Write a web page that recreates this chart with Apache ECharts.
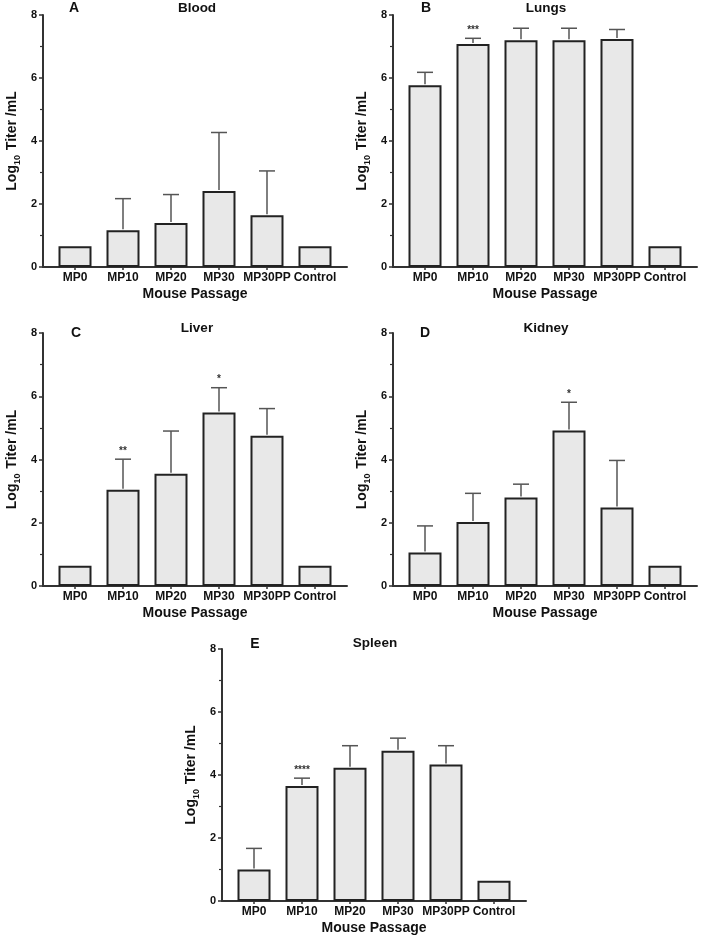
<!DOCTYPE html>
<html>
<head>
<meta charset="utf-8">
<script src="https://cdn.jsdelivr.net/npm/echarts@6/dist/echarts.min.js"></script>
<style>
html,body{margin:0;padding:0;background:#fff;}
#chart{width:702px;height:939px;}
</style>
</head>
<body>
<div id="chart"></div>
<script>
// ---- data ----
const categories = ['MP0', 'MP10', 'MP20', 'MP30', 'MP30PP', 'Control'];
const yTicks = [0, 2, 4, 6, 8];

const bloodMean  = [0.66, 1.17, 1.40, 2.41, 1.64, 0.66];
const bloodUpper = [null, 2.17, 2.30, 4.27, 3.05, null];
const bloodStars = ['', '', '', '', '', ''];

const lungsMean  = [5.77, 7.08, 7.20, 7.20, 7.24, 0.66];
const lungsUpper = [6.18, 7.26, 7.58, 7.58, 7.54, null];
const lungsStars = ['', '***', '', '', '', ''];

const liverMean  = [0.64, 3.04, 3.55, 5.49, 4.75, 0.64];
const liverUpper = [null, 4.01, 4.90, 6.27, 5.61, null];
const liverStars = ['', '**', '', '*', '', ''];

const kidneyMean  = [1.06, 2.02, 2.80, 4.92, 2.48, 0.64];
const kidneyUpper = [1.90, 2.93, 3.22, 5.81, 3.97, null];
const kidneyStars = ['', '', '', '*', '', ''];

const spleenMean  = [1.00, 3.65, 4.23, 4.77, 4.33, 0.64];
const spleenUpper = [1.67, 3.90, 4.93, 5.17, 4.93, null];
const spleenStars = ['', '****', '', '', '', ''];

const panels = [
  {letter: 'A', title: 'Blood',  mean: bloodMean,  upper: bloodUpper,  stars: bloodStars},
  {letter: 'B', title: 'Lungs',  mean: lungsMean,  upper: lungsUpper,  stars: lungsStars},
  {letter: 'C', title: 'Liver',  mean: liverMean,  upper: liverUpper,  stars: liverStars},
  {letter: 'D', title: 'Kidney', mean: kidneyMean, upper: kidneyUpper, stars: kidneyStars},
  {letter: 'E', title: 'Spleen', mean: spleenMean, upper: spleenUpper, stars: spleenStars}
];

// ---- layout ----
const layout = [
  {left: 43,  top: 15,  width: 304, height: 252, titleX: 197, titleY: 8,   letterX: 74,  letterY: 8},
  {left: 393, top: 15,  width: 304, height: 252, titleX: 546, titleY: 8,   letterX: 426, letterY: 8},
  {left: 43,  top: 333, width: 304, height: 253, titleX: 197, titleY: 328, letterX: 76,  letterY: 333},
  {left: 393, top: 333, width: 304, height: 253, titleX: 546, titleY: 328, letterX: 425, letterY: 333},
  {left: 222, top: 649, width: 304, height: 252, titleX: 375, titleY: 643, letterX: 255, letterY: 644}
];

const FONT = 'Liberation Sans, Arial, Helvetica, sans-serif';
const AXIS_COLOR = '#333333';
const idx = categories.map((c, i) => i);

const grid = [], xAxis = [], yAxis = [], series = [], graphic = [];

panels.forEach((p, k) => {
  const L = layout[k];
  grid.push({left: L.left, top: L.top, width: L.width, height: L.height, containLabel: false});
  xAxis.push({
    gridIndex: k, type: 'value', min: -0.6667, max: 5.6667,
    splitLine: {show: false},
    axisLine: {show: true, onZero: false, lineStyle: {color: AXIS_COLOR, width: 2}},
    axisTick: {show: true, customValues: idx, length: 3, lineStyle: {color: AXIS_COLOR, width: 1.5}},
    axisLabel: {
      customValues: idx, margin: 5,
      formatter: v => categories[Math.round(v)],
      fontFamily: FONT, fontWeight: 'bold', fontSize: 12, color: '#111'
    },
    name: 'Mouse Passage', nameLocation: 'middle', nameGap: 20,
    nameTextStyle: {fontFamily: FONT, fontWeight: 'bold', fontSize: 14, color: '#111'}
  });
  yAxis.push({
    gridIndex: k, type: 'value', min: 0, max: 8, interval: 2,
    splitLine: {show: false},
    axisLine: {show: true, onZero: false, lineStyle: {color: AXIS_COLOR, width: 2}},
    axisTick: {show: true, length: 4, lineStyle: {color: AXIS_COLOR, width: 1.5}},
    minorTick: {show: true, splitNumber: 2, length: 3, lineStyle: {color: AXIS_COLOR, width: 1.2}},
    axisLabel: {
      margin: 6, fontFamily: FONT, fontWeight: 'bold', fontSize: 11, color: '#111',
      formatter: v => (yTicks.indexOf(v) >= 0 ? String(v) : '')
    },
    name: '{a|Log}{s|10}{a| Titer /mL}', nameLocation: 'middle', nameGap: 24,
    nameTextStyle: {
      fontFamily: FONT, fontWeight: 'bold', fontSize: 14, color: '#111',
      rich: {
        a: {fontFamily: FONT, fontWeight: 'bold', fontSize: 14, color: '#111', verticalAlign: 'bottom', lineHeight: 16},
        s: {fontFamily: FONT, fontWeight: 'bold', fontSize: 9, color: '#111', verticalAlign: 'bottom', lineHeight: 10, padding: [0, 1, -3, 0]}
      }
    }
  });
  series.push({
    type: 'bar', xAxisIndex: k, yAxisIndex: k, barWidth: 33,
    data: p.mean.map((v, i) => [i, v]),
    itemStyle: {color: '#e8e8e8', borderColor: '#222222', borderWidth: 2},
    z: 2, silent: true, animation: false
  });
  series.push({
    type: 'custom', xAxisIndex: k, yAxisIndex: k, z: 3, silent: true, animation: false,
    data: p.mean.map((v, i) => [i, v, p.upper[i] == null ? v : p.upper[i], p.stars[i]]),
    renderItem: (params, api) => {
      const i = api.value(0);
      const base = api.coord([i, api.value(1)]);
      const top = api.coord([i, api.value(2)]);
      const star = p.stars[i];
      const children = [];
      if (p.upper[i] != null) {
        const cap = 8;
        children.push({type: 'line', shape: {x1: base[0], y1: base[1] - 1, x2: top[0], y2: top[1]},
          style: {stroke: '#555', lineWidth: 1.5}});
        children.push({type: 'line', shape: {x1: top[0] - cap, y1: top[1], x2: top[0] + cap, y2: top[1]},
          style: {stroke: '#555', lineWidth: 1.5}});
      }
      if (star) {
        children.push({type: 'text', x: top[0], y: top[1] - 3,
          style: {text: star, fontFamily: FONT, fontWeight: 'bold', fontSize: 10, fill: '#333',
                  textAlign: 'center', textVerticalAlign: 'bottom'}});
      }
      return {type: 'group', children};
    }
  });
  graphic.push({type: 'text', x: L.titleX, y: L.titleY,
    style: {text: p.title, fontFamily: FONT, fontWeight: 'bold', fontSize: 13.5, fill: '#111',
            textAlign: 'center', textVerticalAlign: 'middle'}});
  graphic.push({type: 'text', x: L.letterX, y: L.letterY,
    style: {text: p.letter, fontFamily: FONT, fontWeight: 'bold', fontSize: 14, fill: '#111',
            textAlign: 'center', textVerticalAlign: 'middle'}});
});

const chart = echarts.init(document.getElementById('chart'), null, {renderer: 'canvas'});
chart.setOption({
  backgroundColor: '#ffffff',
  animation: false,
  grid, xAxis, yAxis, series, graphic
});
</script>
</body>
</html>
